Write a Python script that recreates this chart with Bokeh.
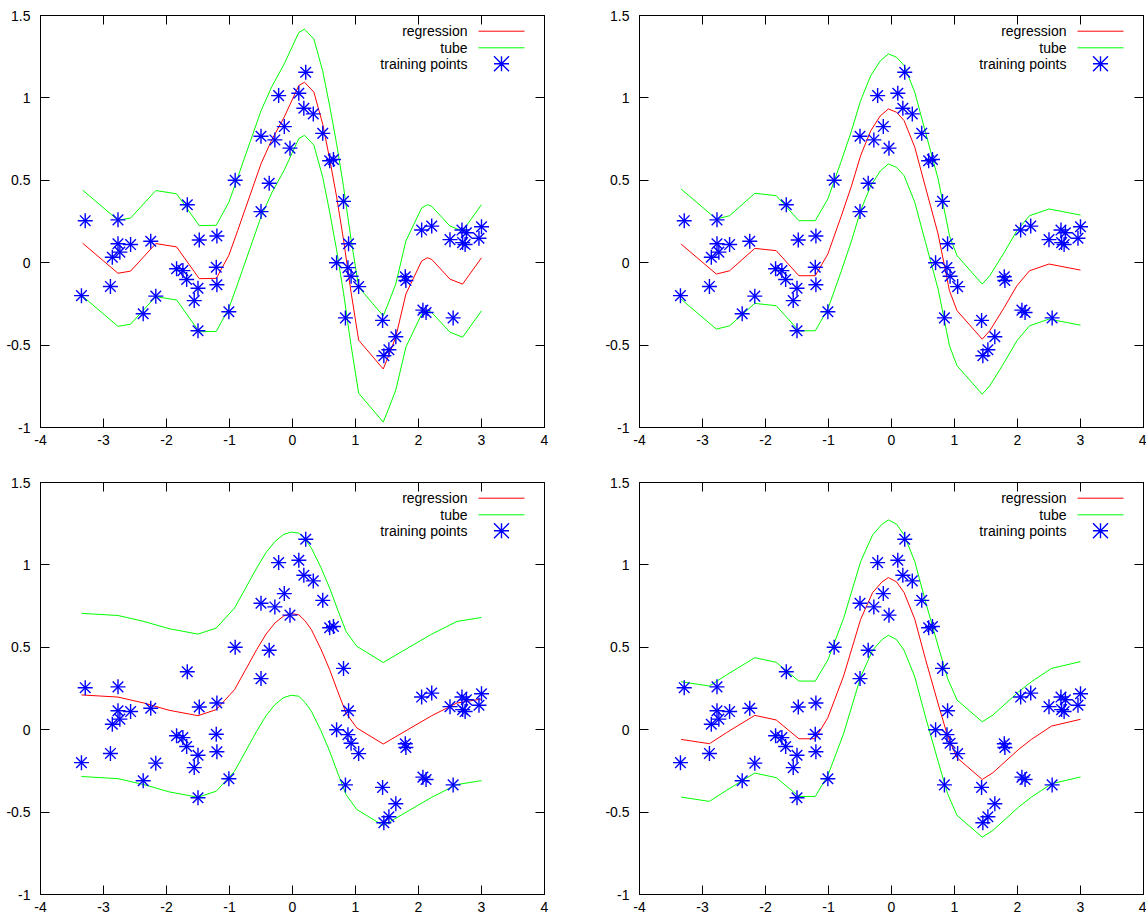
from bokeh.plotting import figure
from bokeh.layouts import column, row
from bokeh.models import (LinearAxis, FixedTicker, Label, PolyAnnotation,
                          CustomJSTickFormatter, Range1d)
from bokeh.embed import file_html
from bokeh.resources import INLINE

# ---------------- data ----------------
train_x = [-3.29, -3.35, -2.77, -2.77, -2.86, -2.74, -2.57, -2.89, -2.25, -2.17, -2.37,
           -1.67, -1.84, -1.74, -1.68, -1.48, -1.50, -1.56, -1.50, -1.20, -1.21, -1.20,
           -1.01, -0.91, -0.50, -0.37, -0.50, -0.28, -0.22, -0.13, -0.04, 0.10, 0.21,
           0.18, 0.33, 0.48, 0.59, 0.65, 0.81, 0.89, 0.70, 0.88, 0.93, 1.05, 0.84,
           1.43, 1.45, 1.53, 1.64, 1.79, 1.80, 2.05, 2.21, 2.07, 2.12, 2.55, 2.50,
           2.69, 2.76, 2.70, 2.74, 2.96, 3.00]
train_y = [0.255, -0.200, 0.260, 0.115, 0.033, 0.064, 0.110, -0.144, 0.130, -0.203, -0.310,
           0.352, -0.037, -0.048, -0.102, 0.138, -0.155, -0.230, -0.413, 0.162, -0.028, -0.134,
           -0.298, 0.500, 0.310, 0.482, 0.767, 0.745, 1.014, 0.826, 0.695, 1.028, 1.156,
           0.937, 0.903, 0.785, 0.619, 0.626, 0.372, 0.115, 0.000, -0.030, -0.082, -0.145, -0.335,
           -0.350, -0.565, -0.528, -0.449, -0.085, -0.108, 0.198, 0.222, -0.288, -0.302, -0.335, 0.140,
           0.198, 0.182, 0.122, 0.110, 0.148, 0.218]

# panel 1 (top left)
x1 = [-3.33, -2.77, -2.57, -2.17, -1.84, -1.48, -1.21, -1.01, -0.87, -0.50, -0.33, -0.13,
      0.10, 0.19, 0.34, 0.48, 0.59, 0.70, 0.81, 0.88, 0.93, 1.05, 1.44, 1.53, 1.64, 1.80,
      2.05, 2.14, 2.21, 2.50, 2.70, 3.00]
reg1 = [0.118, -0.064, -0.051, 0.116, 0.096, -0.097, -0.095, 0.045, 0.195, 0.600, 0.745, 0.885,
        1.075, 1.095, 1.035, 0.840, 0.630, 0.400, 0.140, -0.050, -0.180, -0.470, -0.645, -0.560,
        -0.450, -0.190, 0.010, 0.030, 0.020, -0.100, -0.130, 0.030]
up1 = [0.440, 0.258, 0.271, 0.438, 0.418, 0.225, 0.227, 0.367, 0.517, 0.922, 1.067, 1.207,
       1.397, 1.417, 1.357, 1.162, 0.952, 0.722, 0.462, 0.272, 0.142, -0.148, -0.323, -0.238,
       -0.128, 0.132, 0.332, 0.352, 0.342, 0.222, 0.192, 0.352]
lo1 = [-0.204, -0.386, -0.373, -0.206, -0.226, -0.419, -0.417, -0.277, -0.127, 0.278, 0.423, 0.563,
       0.753, 0.773, 0.713, 0.518, 0.308, 0.078, -0.182, -0.372, -0.502, -0.792, -0.967, -0.882,
       -0.772, -0.512, -0.312, -0.292, -0.302, -0.422, -0.452, -0.292]

# panel 2 (top right)
x2 = [-3.34, -2.78, -2.57, -2.17, -1.83, -1.47, -1.21, -1.01, -0.80, -0.64, -0.49, -0.33,
      -0.18, -0.05, 0.08, 0.20, 0.37, 0.54, 0.74, 0.92, 1.04, 1.44, 1.56, 1.79, 1.99, 2.19,
      2.50, 3.00]
reg2 = [0.113, -0.069, -0.049, 0.087, 0.073, -0.079, -0.079, 0.053, 0.280, 0.460, 0.650, 0.800,
        0.890, 0.933, 0.913, 0.862, 0.700, 0.457, 0.174, -0.170, -0.291, -0.464, -0.413, -0.271,
        -0.140, -0.049, -0.008, -0.045]
up2 = [0.447, 0.265, 0.285, 0.421, 0.407, 0.255, 0.255, 0.387, 0.614, 0.794, 0.984, 1.134,
       1.224, 1.267, 1.247, 1.196, 1.034, 0.791, 0.508, 0.164, 0.043, -0.130, -0.079, 0.063,
       0.194, 0.285, 0.326, 0.289]
lo2 = [-0.221, -0.403, -0.383, -0.247, -0.261, -0.413, -0.413, -0.281, -0.054, 0.126, 0.316, 0.466,
       0.556, 0.599, 0.579, 0.528, 0.366, 0.123, -0.160, -0.504, -0.625, -0.798, -0.747, -0.605,
       -0.474, -0.383, -0.342, -0.379]

# panel 3 (bottom left)
x3 = [-3.35, -2.77, -2.36, -1.96, -1.50, -1.21, -0.92, -0.75, -0.57, -0.42, -0.28, -0.14,
      -0.02, 0.10, 0.20, 0.30, 0.45, 0.59, 0.72, 0.85, 1.02, 1.44, 1.74, 2.21, 2.61, 3.00]
reg3 = [0.211, 0.198, 0.162, 0.118, 0.085, 0.122, 0.243, 0.360, 0.485, 0.580, 0.647, 0.690,
        0.704, 0.698, 0.660, 0.607, 0.490, 0.364, 0.230, 0.101, 0.011, -0.087, -0.020, 0.085,
        0.162, 0.186]
up3 = [0.706, 0.693, 0.657, 0.613, 0.580, 0.617, 0.738, 0.855, 0.980, 1.075, 1.142, 1.185,
       1.199, 1.193, 1.155, 1.102, 0.985, 0.859, 0.725, 0.596, 0.506, 0.408, 0.475, 0.580,
       0.657, 0.681]
lo3 = [-0.284, -0.297, -0.333, -0.377, -0.410, -0.373, -0.252, -0.135, -0.010, 0.085, 0.152, 0.195,
       0.209, 0.203, 0.165, 0.112, -0.005, -0.131, -0.265, -0.394, -0.484, -0.582, -0.515, -0.410,
       -0.333, -0.309]

# panel 4 (bottom right)
x4 = [-3.34, -2.89, -2.62, -2.17, -1.83, -1.47, -1.21, -1.01, -0.76, -0.49, -0.30, -0.15,
      -0.05, 0.08, 0.20, 0.37, 0.54, 0.75, 0.89, 1.04, 1.44, 1.61, 2.02, 2.22, 2.54, 3.00]
reg4 = [-0.059, -0.085, -0.018, 0.087, 0.059, -0.055, -0.055, 0.073, 0.326, 0.670, 0.832, 0.897,
        0.923, 0.897, 0.832, 0.670, 0.427, 0.144, -0.038, -0.170, -0.302, -0.261, -0.119, -0.059,
        0.022, 0.063]
up4 = [0.291, 0.265, 0.332, 0.437, 0.409, 0.295, 0.295, 0.423, 0.676, 1.020, 1.182, 1.247,
       1.273, 1.247, 1.182, 1.020, 0.777, 0.494, 0.312, 0.180, 0.048, 0.089, 0.231, 0.291,
       0.372, 0.413]
lo4 = [-0.409, -0.435, -0.368, -0.263, -0.291, -0.405, -0.405, -0.277, -0.024, 0.320, 0.482, 0.547,
       0.573, 0.547, 0.482, 0.320, 0.077, -0.206, -0.388, -0.520, -0.652, -0.611, -0.469, -0.409,
       -0.328, -0.287]

X_TICKS = [-4, -3, -2, -1, 0, 1, 2, 3, 4]
X_LABELS = ["-4", "-3", "-2", "-1", "0", "1", "2", "3", "4"]
Y_TICKS = [-1, -0.5, 0, 0.5, 1, 1.5]
Y_LABELS = ["-1", "-0.5", "0", "0.5", "1", "1.5"]
LEGEND_LABELS = ["regression", "tube", "training points"]

# ---------------- styling ----------------
FONT = "Liberation Sans"
FS = "14px"
FW, FH = 504, 412
RED, GREEN, BLUE = "#ff0000", "#00ff00", "#0000ff"
MSIZE = 15


def style_axis(ax, ticks, labels, show_labels):
    ax.ticker = FixedTicker(ticks=ticks)
    ax.major_tick_in = 9
    ax.major_tick_out = 0
    ax.minor_tick_line_color = None
    ax.axis_line_color = "black"
    ax.major_tick_line_color = "black"
    if show_labels:
        ax.major_label_overrides = dict(zip(ticks, labels))
        ax.major_label_text_font = FONT
        ax.major_label_text_font_size = FS
        ax.major_label_text_color = "black"
    else:
        ax.formatter = CustomJSTickFormatter(code="return ''")
        ax.major_label_text_font_size = "0px"
        ax.major_label_standoff = 0


def panel(xs, reg, up, lo, left, right, top, bottom):
    p = figure(frame_width=FW, frame_height=FH,
               x_range=Range1d(-4, 4), y_range=Range1d(-1, 1.5),
               output_backend="svg", toolbar_location=None,
               min_border_left=left, min_border_right=right,
               min_border_top=top, min_border_bottom=bottom)
    p.grid.visible = False
    p.outline_line_color = "black"
    p.outline_line_width = 1
    p.background_fill_color = "white"
    p.border_fill_color = "white"

    style_axis(p.xaxis[0], X_TICKS, X_LABELS, True)
    p.xaxis[0].major_label_standoff = 7
    style_axis(p.yaxis[0], Y_TICKS, Y_LABELS, True)
    p.yaxis[0].major_label_standoff = 10

    top_ax = LinearAxis()
    style_axis(top_ax, X_TICKS, X_LABELS, False)
    p.add_layout(top_ax, "above")
    right_ax = LinearAxis()
    style_axis(right_ax, Y_TICKS, Y_LABELS, False)
    p.add_layout(right_ax, "right")

    p.line(xs, reg, line_color=RED, line_width=1)
    p.line(xs, up, line_color=GREEN, line_width=1)
    p.line(xs, lo, line_color=GREEN, line_width=1)

    p.scatter(train_x, train_y, marker="cross", size=MSIZE, line_color=BLUE, line_width=1.4)
    p.scatter(train_x, train_y, marker="x", size=MSIZE, line_color=BLUE, line_width=1.4)

    # legend (gnuplot style: text right-aligned, key sample to its right)
    rows_y = [FH - 15.7, FH - 32.3, FH - 48.3]
    text_x = FW - 77
    for lab, yy in zip(LEGEND_LABELS, rows_y):
        p.add_layout(Label(x=text_x, y=yy, x_units="screen", y_units="screen",
                           text=lab, text_align="right", text_baseline="middle",
                           text_font=FONT, text_font_size=FS, text_color="black"))
    for col, yy in zip([RED, GREEN], rows_y[:2]):
        p.add_layout(PolyAnnotation(xs=[FW - 66, FW - 20], ys=[yy, yy],
                                    xs_units="screen", ys_units="screen",
                                    line_color=col, line_alpha=1.0, line_width=1,
                                    fill_color=None, fill_alpha=0))
    cx, cy, r = FW - 43, rows_y[2], MSIZE / 2
    sx = [cx, cx, cx, cx, cx, cx - r, cx, cx + r, cx, cx - r, cx, cx + r, cx, cx - r, cx, cx + r, cx]
    sy = [cy, cy + r, cy, cy - r, cy, cy, cy, cy, cy, cy + r, cy, cy - r, cy, cy - r, cy, cy + r, cy]
    p.add_layout(PolyAnnotation(xs=sx, ys=sy, xs_units="screen", ys_units="screen",
                                line_color=BLUE, line_alpha=1.0, line_width=1.4,
                                fill_color=None, fill_alpha=0))
    return p


p1 = panel(x1, reg1, up1, lo1, 40, 55, 15, 30)
p2 = panel(x2, reg2, up2, lo2, 40, 3, 15, 30)
p3 = panel(x3, reg3, up3, lo3, 40, 55, 25, 24)
p4 = panel(x4, reg4, up4, lo4, 40, 3, 25, 24)

layout = column(row(p1, p2), row(p3, p4))

open("out.html", "w").write(file_html(layout, INLINE))
